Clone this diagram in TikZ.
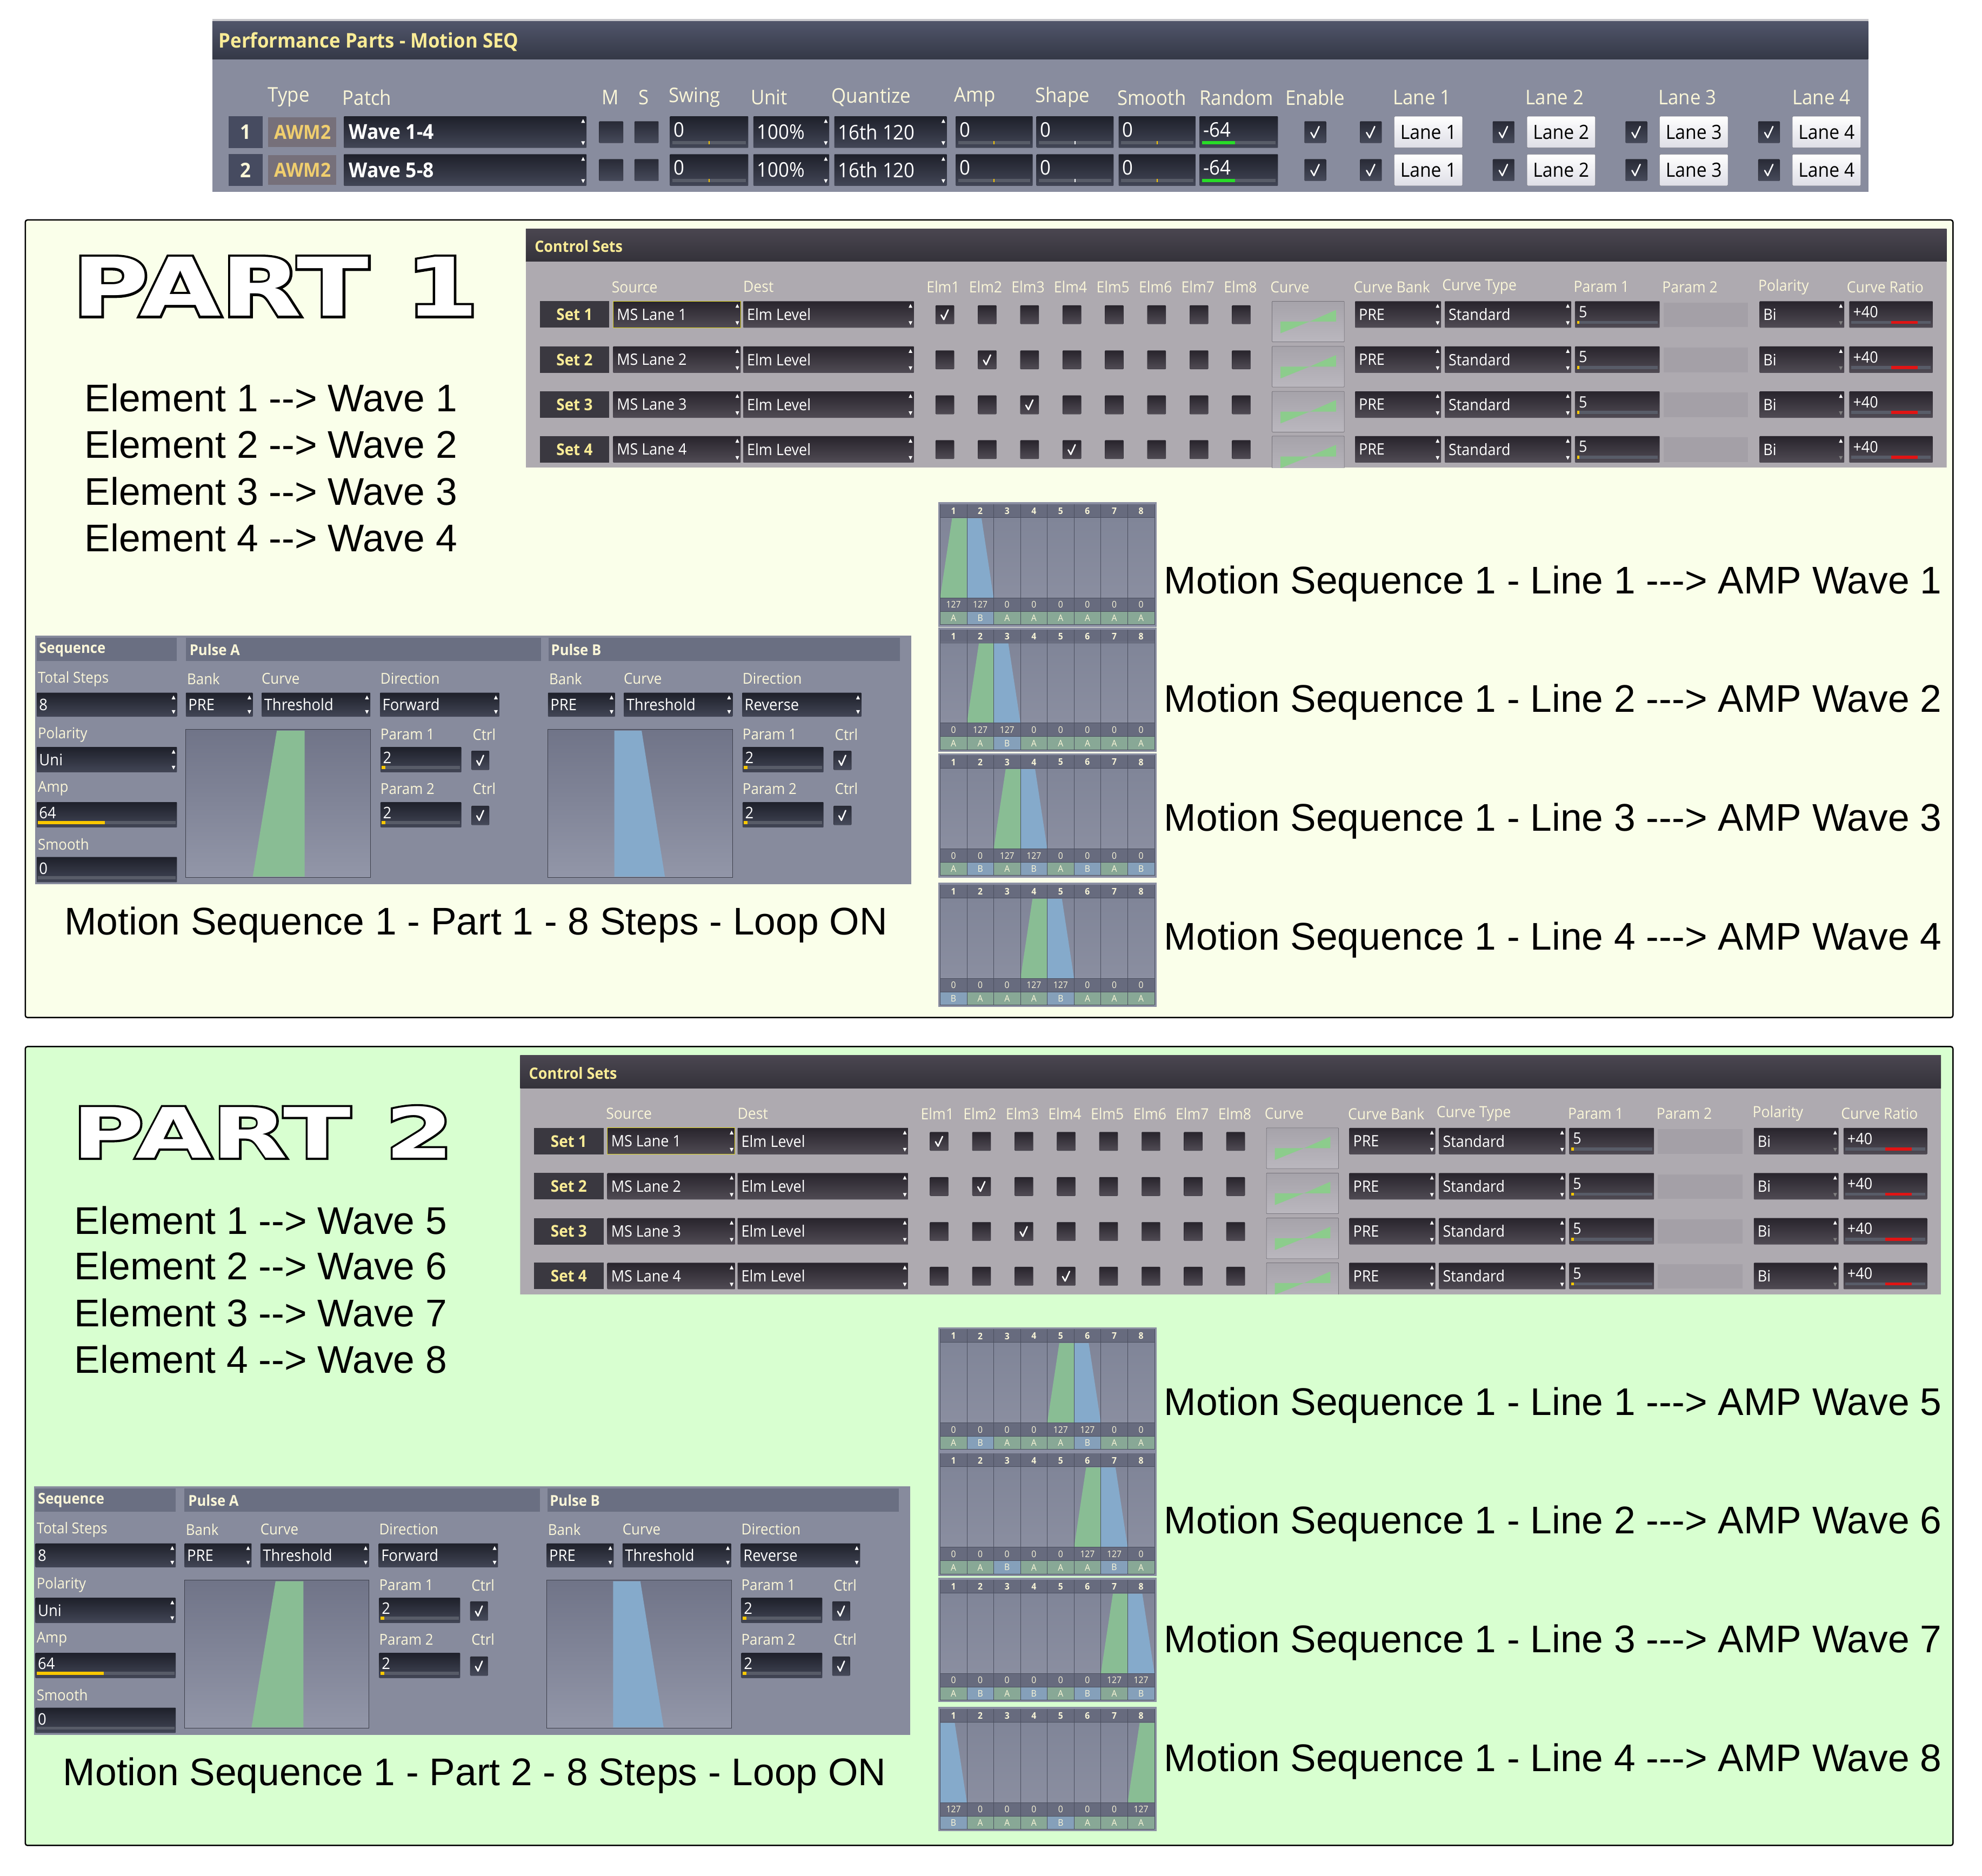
\documentclass[tikz,border=0pt]{standalone}
\usepackage{fontspec}
\setmainfont{Liberation Sans}
\newfontfamily\uif[FakeStretch=0.93]{Open Sans}
\newfontfamily\partfA[FakeStretch=1.3]{DejaVu Sans}
\newfontfamily\partfAo[FakeStretch=1.3,FakeBold=6]{DejaVu Sans}
\newfontfamily\partfB[FakeStretch=1.42]{DejaVu Sans}
\newfontfamily\partfBo[FakeStretch=1.42,FakeBold=6]{DejaVu Sans}

\definecolor{pA}{RGB}{250,255,234}
\definecolor{pB}{RGB}{216,255,208}
\definecolor{topline}{RGB}{200,200,204}
\definecolor{tbody}{RGB}{136,140,158}
\definecolor{ttT}{RGB}{80,85,106}
\definecolor{ttB}{RGB}{52,56,70}
\definecolor{fT}{RGB}{30,32,42}
\definecolor{fB}{RGB}{66,70,86}
\definecolor{cream}{RGB}{250,246,216}
\definecolor{setyel}{RGB}{250,236,150}
\definecolor{gold}{RGB}{240,206,110}
\definecolor{numbox}{RGB}{70,75,96}
\definecolor{awm}{RGB}{118,112,122}
\definecolor{cbT}{RGB}{40,42,54}
\definecolor{cbB}{RGB}{70,74,90}
\definecolor{cbE}{RGB}{30,30,38}
\definecolor{bar}{RGB}{88,92,104}
\definecolor{yel}{RGB}{250,200,0}
\definecolor{grbar}{RGB}{40,220,40}
\definecolor{lanebot}{RGB}{222,222,230}
\definecolor{laneedge}{RGB}{110,110,120}
\definecolor{cbody}{RGB}{174,170,176}
\definecolor{ctT}{RGB}{74,70,80}
\definecolor{ctB}{RGB}{52,50,58}
\definecolor{cfT}{RGB}{40,36,44}
\definecolor{cfB}{RGB}{80,75,84}
\definecolor{setbox}{RGB}{58,56,64}
\definecolor{crvT}{RGB}{166,163,170}
\definecolor{crvB}{RGB}{186,183,190}
\definecolor{crvE}{RGB}{90,88,96}
\definecolor{crvG}{RGB}{140,204,140}
\definecolor{ptwo}{RGB}{164,160,167}
\definecolor{redbar}{RGB}{225,20,20}
\definecolor{sbody}{RGB}{135,139,157}
\definecolor{shead}{RGB}{106,111,130}
\definecolor{gbT}{RGB}{112,116,136}
\definecolor{gbB}{RGB}{146,150,168}
\definecolor{gbE}{RGB}{60,62,74}
\definecolor{gframe}{RGB}{138,142,162}
\definecolor{gHead}{RGB}{103,107,126}
\definecolor{gT}{RGB}{128,133,152}
\definecolor{gB}{RGB}{138,142,160}
\definecolor{cellA}{RGB}{136,168,150}
\definecolor{cellB}{RGB}{133,160,186}
\definecolor{grn}{RGB}{137,189,148}
\definecolor{blu}{RGB}{133,170,203}
\definecolor{gsep}{RGB}{74,78,94}

\newcommand\ofs[1]{\fontsize{\dimexpr #1pt*23386/10000\relax}{\dimexpr #1pt*28000/10000\relax}\selectfont}
\def\ftop{fT}\def\fbot{fB}\def\ctop{cbT}\def\cbot{cbB}

\newcount\nodecnt
\tikzset{
 every node/.append style={inner sep=0pt,outer sep=0pt,/utils/exec={\global\advance\nodecnt by 1},name=nd\the\nodecnt},
 lbl/.style={anchor=west,text=cream,font=\uif\ofs{12.2}},
 slbl/.style={anchor=west,text=cream,font=\uif\ofs{11.9}},
 tophd/.style={anchor=west,text=cream,font=\uif\ofs{16}},
 topval/.style={anchor=west,text=white,font=\uif\ofs{16}},
 cval/.style={anchor=west,text=white,font=\uif\ofs{12.4}},
 sval/.style={anchor=west,text=white,font=\uif\ofs{12.6}},
 big/.style={anchor=base west,text=black,font=\ofs{30.5}},
 gnum/.style={text=cream,font=\uif\bfseries\ofs{7.2}},
 gval/.style={text=cream,font=\uif\ofs{7.2}},
}

\newcommand\fld[4]{\shade[top color=\ftop,bottom color=\fbot,rounded corners=1] ({#1},{#2}) rectangle ({#3},{#4});}
\newcommand\arr[4][white]{%
 \fill[white] ({(#2)-4.2},{(#3)+5.2}) -- ({(#2)-1.2},{(#3)+5.2}) -- ({(#2)-2.7},{(#3)+2.2}) -- cycle;
 \fill[#1] ({(#2)-4.2},{(#4)-5.2}) -- ({(#2)-1.2},{(#4)-5.2}) -- ({(#2)-2.7},{(#4)-2.2}) -- cycle;}
\newcommand\cb[5]{%
 \shade[top color=\ctop,bottom color=\cbot,rounded corners=1.2,draw=cbE,line width=0.3pt] ({#1},{#2}) rectangle ({#3},{#4});
 \ifnum#5=1
 \draw[white,line width=2.6pt,line cap=round,line join=round] ({(#1)+0.3*((#3)-(#1))},{(#2)+0.52*((#4)-(#2))}) -- ({(#1)+0.44*((#3)-(#1))},{(#2)+0.76*((#4)-(#2))}) -- ({(#1)+0.68*((#3)-(#1))},{(#2)+0.24*((#4)-(#2))});
 \fi}
\newcommand\sld[5]{%
 \fill[bar] ({#1},{(#3)-5.5}) rectangle ({#2},{(#3)-2.8});
 \fill[#5] ({(#1)+(#4)*((#2)-(#1))-0.45},{(#3)-5.5}) rectangle ({(#1)+(#4)*((#2)-(#1))+0.45},{(#3)-2.8});}

\newcommand\toprow[3]{%
 \pgfmathsetmacro\yb{#1+25}\pgfmathsetmacro\yc{#1+12.5}\pgfmathsetmacro\yv{#1+10.5}%
 \fill[numbox] (181,#1) rectangle (208,\yb);
 \node[text=cream,font=\uif\bfseries\ofs{16}] at (194.5,\yc) {#2};
 \fill[awm] (212,{#1+0.6}) rectangle (266,{\yb-0.6});
 \node[text=gold,font=\uif\bfseries\ofs{15.4}] at (239.5,\yc) {AWM2};
 \fld{272}{#1}{464}{\yb}\arr{464}{#1}{\yb}
 \node[anchor=west,text=white,font=\uif\bfseries\ofs{16.3}] at (276,\yc) {#3};
 \cb{474}{#1+4}{493}{\yb-4}{0}
 \cb{502}{#1+4}{521}{\yb-4}{0}
 \fld{530}{#1}{592}{\yb}\node[topval] at (533,\yv) {0};\sld{532}{590}{\yb}{0.5}{yel}
 \fld{596}{#1}{656}{\yb}\arr{656}{#1}{\yb}\node[topval] at (599,\yc) {100\%};
 \fld{660}{#1}{749}{\yb}\arr{749}{#1}{\yb}\node[topval] at (663,\yc) {16th 120};
 \fld{756}{#1}{817}{\yb}\node[topval] at (759,\yv) {0};\sld{758}{815}{\yb}{0.5}{yel}
 \fld{820}{#1}{881}{\yb}\node[topval] at (823,\yv) {0};\sld{822}{879}{\yb}{0.5}{white}
 \fld{885}{#1}{946}{\yb}\node[topval] at (888,\yv) {0};\sld{887}{944}{\yb}{0.5}{yel}
 \fld{949}{#1}{1011}{\yb}\node[topval] at (952,\yv) {-64};
 \fill[bar] (951,{\yb-5.5}) rectangle (1009,{\yb-2.8});
 \fill[grbar] (951,{\yb-5.5}) rectangle (977,{\yb-2.8});
 \cb{1032}{#1+4}{1049}{\yb-4}{1}
 \foreach \L in {1,2,3,4}{%
  \pgfmathsetmacro\xo{105*(\L-1)}%
  \cb{1076+\xo}{#1+4}{1093+\xo}{\yb-4}{1}
  \shade[top color=white,bottom color=lanebot,rounded corners=1.5,draw=laneedge,line width=0.4pt] ({1103+\xo},#1) rectangle ({1157+\xo},\yb);
  \node[text=black,font=\uif\ofs{15.5}] at ({1130+\xo},\yc) {Lane \L};
 }}

\newcommand\ctrlpanel{%
 \begin{scope}
 \def\ftop{cfT}\def\fbot{cfB}\def\ctop{cfT}\def\cbot{cfB}
 \clip (416,181) rectangle (1540,370);
 \shade[top color=ctT,bottom color=ctB] (416,181) rectangle (1540,207);
 \fill[cbody] (416,207) rectangle (1540,370);
 \node[anchor=west,text=setyel,font=\uif\bfseries\ofs{12.4}] at (423,195) {Control Sets};
 \foreach \x/\tx in {484/Source,588/Dest,733/Elm1,766.6/Elm2,800.2/Elm3,833.8/Elm4,867.4/Elm5,901/Elm6,934.6/Elm7,968.2/Elm8,1005/Curve,1071/Curve Bank,1141/Curve Type,1245/Param 1,1315/Param 2,1391/Polarity,1461/Curve Ratio}
   \node[lbl] at (\x,227) {\tx};
 \foreach \rr/\yt in {1/238.3,2/274,3/309.6,4/345}{%
  \pgfmathsetmacro\yb{\yt+21}\pgfmathsetmacro\yc{\yt+10.5}\pgfmathsetmacro\yv{\yt+8.5}%
  \fill[setbox] (427,\yt) rectangle (482,\yb);
  \node[text=setyel,font=\uif\bfseries\ofs{12.8}] at (454.5,\yc) {Set \rr};
  \fld{485}{\yt}{586}{\yb}\arr{586}{\yt}{\yb}\node[cval] at (488,\yc) {MS Lane \rr};
  \ifnum\rr=1 \draw[yellow!85!black,line width=1pt] (485,\yt) rectangle (586,\yb);\fi
  \fld{588}{\yt}{723}{\yb}\arr{588+135}{\yt}{\yb}\node[cval] at (591,\yc) {Elm Level};
  \foreach \kk in {1,...,8}{%
   \pgfmathsetmacro\xc{747.5+33.5*(\kk-1)}%
   \ifnum\kk=\rr\relax\cb{\xc-7.3}{\yt+3.3}{\xc+7.3}{\yt+18}{1}\else\cb{\xc-7.3}{\yt+3.3}{\xc+7.3}{\yt+18}{0}\fi}
  \shade[top color=crvT,bottom color=crvB,draw=crvE,line width=0.5pt,rounded corners=1] (1006.4,\yt) rectangle (1063.5,\yt+32.2);
  \fill[crvG] (1013,\yt+16.1) -- (1036,\yt+16.1) -- (1013,\yt+25.4) -- cycle;
  \fill[crvG] (1036,\yt+16.1) -- (1057,\yt+16.1) -- (1057,\yt+6.9) -- cycle;
  \fld{1072}{\yt}{1140}{\yb}\arr{1140}{\yt}{\yb}\node[cval] at (1075,\yc) {PRE};
  \fld{1143}{\yt}{1243}{\yb}\arr{1243}{\yt}{\yb}\node[cval] at (1146,\yc) {Standard};
  \fld{1246}{\yt}{1313}{\yb}\node[cval] at (1249,\yv) {5};
  \fill[bar] (1247.5,\yt+15.5) rectangle (1311.5,\yt+18);
  \fill[yel] (1247.5,\yt+15.5) rectangle (1249.5,\yt+18);
  \fill[ptwo] (1316,\yt+1) rectangle (1383,\yt+20.5);
  \fld{1392}{\yt}{1459}{\yb}\arr[gray]{1459}{\yt}{\yb}\node[cval] at (1395,\yc) {Bi};
  \fld{1463}{\yt}{1529}{\yb}\node[cval] at (1466,\yv) {+40};
  \fill[bar] (1464.5,\yt+15.5) rectangle (1527.5,\yt+18);
  \fill[redbar] (1496,\yt+15.5) rectangle (1517,\yt+18);
 }
 \end{scope}}

\newcommand\pulse[2]{%
 \begin{scope}[shift={(#1,0)}]
 \foreach \x/\tx in {148/Bank,207/Curve,301/Direction} \node[slbl] at (\x,537) {\tx};
 \fld{147}{548}{200}{567}\arr{200}{548}{567}\node[sval] at (149,557.5) {PRE};
 \fld{207}{548}{293}{567}\arr{293}{548}{567}\node[sval] at (209,557.5) {Threshold};
 \fld{300.6}{548}{395}{567}\arr{395}{548}{567}\node[sval] at (302.6,557.5) {#2};
 \shade[top color=gbT,bottom color=gbB] (147,577) rectangle (293,694);
 \draw[gbE,line width=0.8pt] (147,577) rectangle (293,694);
 \foreach \y/\tx in {581/Param 1,624/Param 2} {\node[slbl] at (301,\y) {\tx}; \node[slbl] at (374,\y) {Ctrl};}
 \fld{301}{591}{365}{611}\node[sval] at (303,599.5) {2};
 \fill[bar] (302,606) rectangle (364,608.5); \fill[yel] (302,606) rectangle (305,608.5);
 \cb{373}{594}{387}{609}{1}
 \fld{301}{634.6}{365}{654.6}\node[sval] at (303,643) {2};
 \fill[bar] (302,649.5) rectangle (364,652); \fill[yel] (302,649.5) rectangle (305,652);
 \cb{373}{637.6}{387}{652.6}{1}
 \end{scope}}

\newcommand\seqpanel[1]{%
 \fill[sbody] (28,503) rectangle (721,699.5);
 \fill[shead] (29,504.5) rectangle (140,523);
 \fill[shead] (147,504.5) rectangle (428,523);
 \fill[shead] (434,504.5) rectangle (712,523);
 \node[anchor=west,text=cream,font=\uif\bfseries\ofs{11.8}] at (31,514) {Sequence};
 \node[anchor=west,text=cream,font=\uif\bfseries\ofs{11.8}] at (150,514) {Pulse A};
 \node[anchor=west,text=cream,font=\uif\bfseries\ofs{11.8}] at (436,514) {Pulse B};
 \foreach \y/\tx in {537/Total Steps,581/Polarity,624/Amp,668/Smooth} \node[slbl] at (30,\y) {\tx};
 \fld{29}{548}{140}{567}\arr{140}{548}{567}\node[sval] at (31,557.5) {8};
 \fld{29}{591}{140}{611}\arr{140}{591}{611}\node[sval] at (31,601) {Uni};
 \fld{29}{634.6}{140}{654.6}\node[sval] at (31,643) {64};
 \fill[bar] (30,649.5) rectangle (139,652); \fill[yel] (30,649.5) rectangle (83,652);
 \fld{29}{678}{140}{698}\node[sval] at (31,687) {0};
 \fill[bar] (30,693) rectangle (139,695.5);
 \pulse{0}{Forward}
 \pulse{286.5}{Reverse}
 \fill[grn] (200,693.5) -- (219,578) -- (241,578) -- (241,693.5) -- cycle;
 \fill[blu] (486,578) -- (507.6,578) -- (526,693.5) -- (486,693.5) -- cycle;
 \node[big] at (51,739.5) {Motion Sequence 1 - Part #1 - 8 Steps - Loop ON};}

\newcommand\stepgrid[5]{%
 \fill[gframe] (742.2,{#1-1.6}) rectangle (915,{#1+96.8});
 \fill[gHead] (743.7,#1) rectangle (913.4,{#1+10.4});
 \shade[top color=gT,bottom color=gB] (743.7,{#1+10.4}) rectangle (913.4,{#1+74});
 \fill[gHead] (743.7,{#1+74}) rectangle (913.4,{#1+84.7});
 \foreach \ab [count=\i] in {#5} {
   \fill[cell\ab] ({743.7+21.2*(\i-1)},{#1+84.7}) rectangle ({743.7+21.2*\i},{#1+95.1});
   \node[gval] at ({743.7+21.2*(\i-0.5)},{#1+90}) {\ab};}
 \fill[grn] ({743.7+21.2*(#2-1)},{#1+74}) -- ({743.7+21.2*(#2-1)+9.5},{#1+11}) -- ({743.7+21.2*#2},{#1+11}) -- ({743.7+21.2*#2},{#1+74}) -- cycle;
 \fill[blu] ({743.7+21.2*(#3-1)},{#1+74}) -- ({743.7+21.2*(#3-1)},{#1+11}) -- ({743.7+21.2*(#3-1)+11.6},{#1+11}) -- ({743.7+21.2*#3},{#1+74}) -- cycle;
 \foreach \i in {0,...,8} \draw[gsep,line width=0.7pt] ({743.7+21.2*\i},#1) -- ({743.7+21.2*\i},{#1+95.1});
 \foreach \yy in {10.4,74,84.7,95.1} \draw[gsep,line width=0.7pt] (743.7,{#1+\yy}) -- (913.4,{#1+\yy});
 \foreach \i in {1,...,8} \node[gnum] at ({743.7+21.2*(\i-0.5)},{#1+5.4}) {\i};
 \foreach \v [count=\i] in {#4} \node[gval] at ({743.7+21.2*(\i-0.5)},{#1+79.4}) {\v};
}

\begin{document}
\begin{tikzpicture}[x=2.3386pt,y=-2.3386pt]
\useasboundingbox (0,0) rectangle (1568,1484);
\fill[white] (0,0) rectangle (1568,1484);

% ---------- top panel ----------
\fill[topline] (168,14.8) rectangle (1478,17);
\shade[top color=ttT,bottom color=ttB] (168,17) rectangle (1478,47);
\fill[tbody] (168,47) rectangle (1478,152);
\node[anchor=west,text=setyel,font=\uif\bfseries\ofs{16}] at (173,33) {Performance Parts - Motion SEQ};
\foreach \x/\tx in {212/Type,271/Patch,476/M,505/S,529/Swing,594/Unit,658/Quantize,755/Amp,819/Shape,884/Smooth,949/Random,1017/Enable,1102/Lane 1,1207/Lane 2,1312/Lane 3,1418/Lane 4}
  \node[tophd] at (\x,77) {\tx};
\toprow{92}{1}{Wave 1-4}
\toprow{122}{2}{Wave 5-8}

% ---------- PART 1 ----------
\draw[fill=pA,line width=2.5pt,rounded corners=4] (20,174) rectangle (1545,805);
\node[anchor=base west,text=white,font=\partfA\bfseries\ofs{64}] at (57,250) {\rlap{\color{black}\partfAo\bfseries PART 1}PART 1};
\foreach \y/\nn in {325.5/1,362.5/2,399.5/3,436.5/4}
  \node[big] at (67,\y) {Element \nn{} -{}-> Wave \nn};
\ctrlpanel
\seqpanel{1}
\stepgrid{399}{1}{2}{127,127,0,0,0,0,0,0}{A,B,A,A,A,A,A,A}
\stepgrid{498}{2}{3}{0,127,127,0,0,0,0,0}{A,A,B,A,A,A,A,A}
\stepgrid{597.5}{3}{4}{0,0,127,127,0,0,0,0}{A,B,A,B,A,B,A,B}
\stepgrid{700}{4}{5}{0,0,0,127,127,0,0,0}{B,A,A,A,B,A,A,A}
\foreach \y/\nn in {469.5/1,563.5/2,657.5/3,751.5/4}
  \node[big] at (921,\y) {Motion Sequence 1 - Line \nn{} -{}-{}-> AMP Wave \nn};

% ---------- PART 2 ----------
\draw[fill=pB,line width=2.5pt,rounded corners=4] (20,828) rectangle (1545,1460);
\node[anchor=base west,text=white,font=\partfB\bfseries\ofs{55}] at (57,916) {\rlap{\color{black}\partfBo\bfseries PART 2}PART 2};
\foreach \y/\nn/\w in {976.5/1/5,1012.5/2/6,1049.5/3/7,1086.5/4/8}
  \node[big] at (59,\y) {Element \nn{} -{}-> Wave \w};
\begin{scope}[shift={(-4.5,654)}]\ctrlpanel\end{scope}
\begin{scope}[shift={(-1,673)}]\seqpanel{2}\end{scope}
\stepgrid{1051.6}{5}{6}{0,0,0,0,127,127,0,0}{A,B,A,A,A,B,A,A}
\stepgrid{1150}{6}{7}{0,0,0,0,0,127,127,0}{A,A,B,A,A,A,B,A}
\stepgrid{1249.8}{7}{8}{0,0,0,0,0,0,127,127}{A,B,A,B,A,B,A,B}
\stepgrid{1352}{8}{1}{127,0,0,0,0,0,0,127}{B,A,A,A,B,A,A,A}
\foreach \y/\nn/\w in {1119.5/1/5,1213.5/2/6,1307.5/3/7,1401.5/4/8}
  \node[big] at (921,\y) {Motion Sequence 1 - Line \nn{} -{}-{}-> AMP Wave \w};
\end{tikzpicture}
\end{document}
